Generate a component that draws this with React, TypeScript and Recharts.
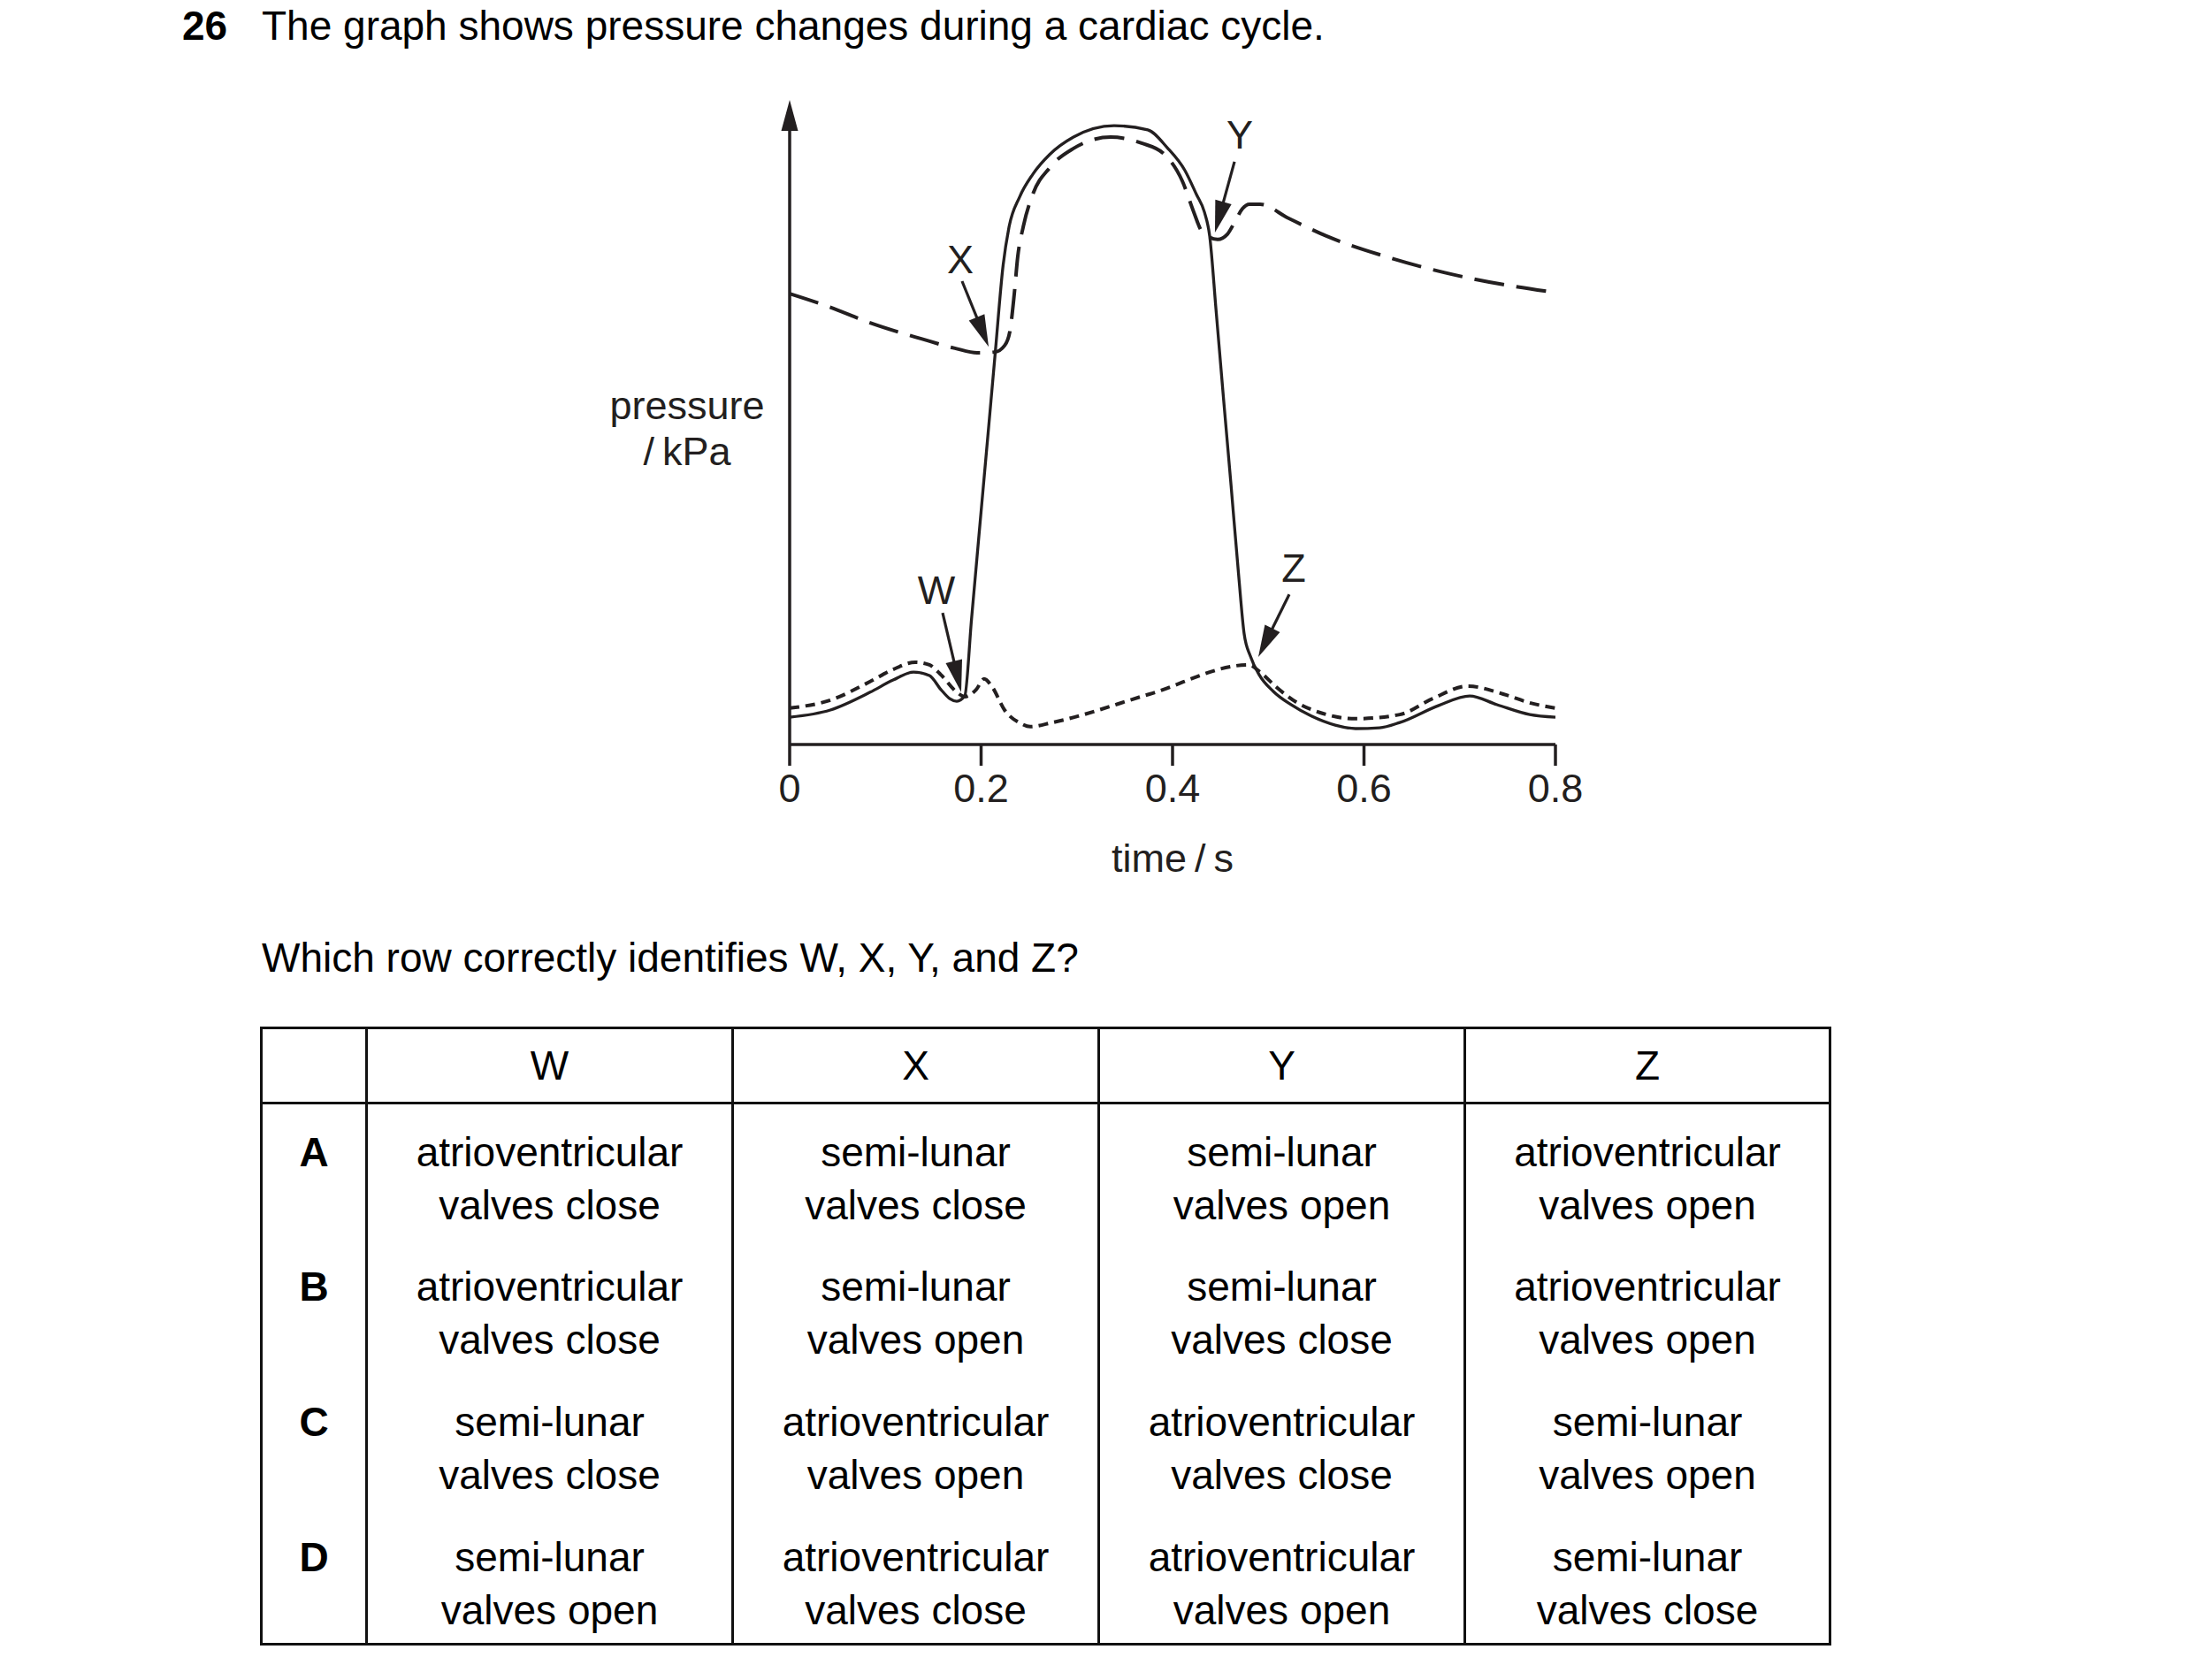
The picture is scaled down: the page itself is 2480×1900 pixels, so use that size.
import React from 'react'
import { Line, LineChart, ReferenceDot, ReferenceLine, XAxis, YAxis } from 'recharts'

const INK = '#231f20'
const FONT = '"Liberation Sans", Arial, Helvetica, sans-serif'

// time / s on the x axis, pressure (arbitrary kPa scale) on the y axis
const TIME_TICKS = [0, 0.2, 0.4, 0.6, 0.8]
const PRESSURE_DOMAIN = [0, 17]

// ventricle – solid line
const ventricleT = [
  0, 0.0425, 0.0841, 0.1081, 0.1293, 0.146, 0.158, 0.1672, 0.1746, 0.1829,
  0.19, 0.1982, 0.2065, 0.2147, 0.223, 0.2291, 0.2402, 0.254, 0.2716, 0.2965,
  0.339, 0.3741, 0.3945, 0.4129, 0.4249, 0.4333, 0.4388, 0.4454, 0.4532, 0.4612,
  0.469, 0.4748, 0.4813, 0.4905, 0.5053, 0.5238, 0.545, 0.57, 0.5912, 0.6162,
  0.6374, 0.6781, 0.7104, 0.739, 0.7732, 0.8,
]
const ventricleP = [
  0.72, 0.91, 1.38, 1.7, 1.91, 1.82, 1.45, 1.21, 1.14, 1.28,
  3.31, 5.64, 7.98, 10.31, 12.64, 13.64, 14.44, 15.04, 15.56, 16.02,
  16.32, 16.21, 15.74, 15.14, 14.51, 14.04, 13.41, 11.47, 9.14, 6.81,
  4.48, 2.92, 2.33, 1.84, 1.4, 1.05, 0.75, 0.51, 0.42, 0.44,
  0.58, 1.03, 1.28, 1.05, 0.79, 0.72,
]

// aorta – dashed line
const aortaT = [
  0, 0.0416, 0.0841, 0.1376, 0.1727, 0.1958, 0.2143, 0.2245, 0.23, 0.2346,
  0.2383, 0.2439, 0.254, 0.2716, 0.2965, 0.3353, 0.3677, 0.3917, 0.4102, 0.4222,
  0.4296, 0.4379, 0.4471, 0.4573, 0.4656, 0.473, 0.4804, 0.4915, 0.521, 0.5607,
  0.6226, 0.6836, 0.7455, 0.8,
]
const aortaP = [
  11.89, 11.54, 11.12, 10.7, 10.45, 10.33, 10.35, 10.52, 10.89, 11.87,
  12.87, 13.64, 14.51, 15.21, 15.72, 16.02, 15.86, 15.56, 14.86, 14.04,
  13.57, 13.39, 13.32, 13.46, 13.81, 14.13, 14.25, 14.25, 13.88, 13.41,
  12.87, 12.45, 12.13, 11.92,
]

// atrium – dotted line
const atriumT = [
  0, 0.0425, 0.0841, 0.1081, 0.1312, 0.146, 0.158, 0.1746, 0.1829, 0.1949,
  0.2032, 0.2115, 0.2245, 0.2411, 0.2513, 0.2744, 0.376, 0.4794, 0.4915, 0.5081,
  0.5303, 0.5543, 0.5912, 0.6374, 0.6716, 0.7085, 0.7455, 0.7732, 0.8,
]
const atriumP = [
  0.96, 1.17, 1.66, 1.98, 2.17, 2.1, 1.84, 1.38, 1.26, 1.45,
  1.73, 1.52, 0.91, 0.56, 0.47, 0.58, 1.33, 2.1, 1.91, 1.52,
  1.1, 0.84, 0.68, 0.79, 1.21, 1.54, 1.33, 1.1, 0.96,
]

// labelled arrows: [time, pressure]
const MARKERS = ['W', 'X', 'Y', 'Z']
const MARKER_TEXT = [[0.1533, 4.08], [0.1783, 12.8], [0.4702, 16.09], [0.5266, 4.66]]
const MARKER_TAIL = [[0.1598, 3.47], [0.1801, 12.22], [0.4647, 15.37], [0.5219, 3.96]]
const MARKER_TIP = [[0.1792, 1.38], [0.2079, 10.49], [0.4443, 13.5], [0.4896, 2.31]]

// table
const ROW_KEYS = ['A', 'B', 'C', 'D']
const COLUMN_HEADS = ['W', 'X', 'Y', 'Z']
const AV = 'atrioventricular'
const SL = 'semi-lunar'
const ANSWERS = [
  [[AV, 'close'], [SL, 'close'], [SL, 'open'], [AV, 'open']],
  [[AV, 'close'], [SL, 'open'], [SL, 'close'], [AV, 'open']],
  [[SL, 'close'], [AV, 'open'], [AV, 'close'], [SL, 'open']],
  [[SL, 'open'], [AV, 'close'], [AV, 'open'], [SL, 'close']],
]

const toRows = (t: number[], p: number[]) => t.map((x, i) => ({ t: x, p: p[i] }))

function arrowShape(head: number, half: number, width: number) {
  return (props: any) => {
    const { x1, y1, x2, y2 } = props
    const dx = x2 - x1
    const dy = y2 - y1
    const len = Math.hypot(dx, dy) || 1
    const ux = dx / len
    const uy = dy / len
    const bx = x2 - ux * head
    const by = y2 - uy * head
    return (
      <g>
        <line x1={x1} y1={y1} x2={bx + ux * 2} y2={by + uy * 2} stroke={INK} strokeWidth={width} />
        <polygon
          points={`${x2},${y2} ${bx - uy * half},${by + ux * half} ${bx + uy * half},${by - ux * half}`}
          fill={INK}
        />
      </g>
    )
  }
}

const axisArrow = arrowShape(35, 9.5, 3.5)
const markerArrow = arrowShape(36, 9.5, 3.2)

const cell: React.CSSProperties = {
  borderLeft: '3px solid #111',
  borderRight: '3px solid #111',
  textAlign: 'center',
  padding: 0,
}

export default function App() {
  const ventricle = toRows(ventricleT, ventricleP)
  const aorta = toRows(aortaT, aortaP)
  const atrium = toRows(atriumT, atriumP)

  return (
    <div
      style={{
        position: 'absolute',
        left: 0,
        top: 0,
        width: 2480,
        height: 1900,
        background: '#fff',
        fontFamily: FONT,
        color: '#000',
      }}
    >
      <div style={{ position: 'absolute', left: 206, top: 6, fontSize: 46, lineHeight: '46px', fontWeight: 700 }}>
        26
      </div>
      <div style={{ position: 'absolute', left: 296, top: 6, fontSize: 46, lineHeight: '46px', whiteSpace: 'nowrap' }}>
        The graph shows pressure changes during a cardiac cycle.
      </div>

      <div
        style={{
          position: 'absolute',
          left: 677,
          top: 433,
          width: 200,
          textAlign: 'center',
          fontSize: 45,
          lineHeight: '52px',
          color: INK,
        }}
      >
        pressure
        <br />
        {'/\u2009kPa'}
      </div>

      <div style={{ position: 'absolute', left: 600, top: 60 }}>
        <LineChart width={1300} height={1000} margin={{ top: 53, right: 141, bottom: 108, left: 293 }}>
          <XAxis
            dataKey="t"
            type="number"
            domain={[0, 0.8]}
            ticks={TIME_TICKS}
            interval={0}
            tickFormatter={(v: number) => String(v)}
            height={110}
            tickSize={24}
            tickMargin={9}
            axisLine={{ stroke: INK, strokeWidth: 3.5 }}
            tickLine={{ stroke: INK, strokeWidth: 3.5 }}
            tick={{ fontSize: 45, fill: INK, fontFamily: FONT }}
            label={{ value: 'time\u2009/\u2009s', position: 'bottom', offset: 2, fontSize: 45, fill: INK, fontFamily: FONT }}
          />
          <YAxis type="number" domain={PRESSURE_DOMAIN} hide />
          <ReferenceLine
            segment={[{ x: 0, y: PRESSURE_DOMAIN[0] }, { x: 0, y: PRESSURE_DOMAIN[1] }]}
            shape={axisArrow}
          />
          <Line
            data={aorta}
            dataKey="p"
            type="monotone"
            stroke={INK}
            strokeWidth={4}
            strokeDasharray="34 14"
            dot={false}
            activeDot={false}
            isAnimationActive={false}
          />
          <Line
            data={atrium}
            dataKey="p"
            type="monotone"
            stroke={INK}
            strokeWidth={4}
            strokeDasharray="11 7"
            dot={false}
            activeDot={false}
            isAnimationActive={false}
          />
          <Line
            data={ventricle}
            dataKey="p"
            type="monotone"
            stroke={INK}
            strokeWidth={3.3}
            dot={false}
            activeDot={false}
            isAnimationActive={false}
          />
          {MARKERS.map((m, i) => (
            <ReferenceLine
              key={`arrow-${m}`}
              segment={[
                { x: MARKER_TAIL[i][0], y: MARKER_TAIL[i][1] },
                { x: MARKER_TIP[i][0], y: MARKER_TIP[i][1] },
              ]}
              shape={markerArrow}
            />
          ))}
          {MARKERS.map((m, i) => (
            <ReferenceDot
              key={`label-${m}`}
              x={MARKER_TEXT[i][0]}
              y={MARKER_TEXT[i][1]}
              r={0}
              fill="none"
              stroke="none"
              label={{ value: m, position: 'center', fontSize: 45, fill: INK, fontFamily: FONT }}
            />
          ))}
        </LineChart>
      </div>

      <div style={{ position: 'absolute', left: 296, top: 1060, fontSize: 46, lineHeight: '46px', whiteSpace: 'nowrap' }}>
        Which row correctly identifies W, X, Y, and Z?
      </div>

      <table
        style={{
          position: 'absolute',
          left: 294,
          top: 1161,
          width: 1774,
          borderCollapse: 'collapse',
          tableLayout: 'fixed',
          border: '3px solid #111',
          fontSize: 46,
          lineHeight: '60px',
          fontFamily: FONT,
          color: '#000',
        }}
      >
        <colgroup>
          <col style={{ width: 119 }} />
          <col style={{ width: 414 }} />
          <col style={{ width: 414 }} />
          <col style={{ width: 414 }} />
          <col style={{ width: 413 }} />
        </colgroup>
        <thead>
          <tr style={{ height: 85 }}>
            <th style={{ ...cell, borderBottom: '3px solid #111' }} />
            {COLUMN_HEADS.map((h) => (
              <th key={h} style={{ ...cell, fontWeight: 400, borderBottom: '3px solid #111', verticalAlign: 'middle' }}>
                {h}
              </th>
            ))}
          </tr>
        </thead>
        <tbody>
          {ROW_KEYS.map((k, r) => (
            <tr key={k} style={{ height: 153 }}>
              <td style={{ ...cell, fontWeight: 700, verticalAlign: 'top', paddingTop: 24 }}>{k}</td>
              {ANSWERS[r].map(([valve, action], c) => (
                <td key={c} style={{ ...cell, verticalAlign: 'top', paddingTop: 24 }}>
                  {valve}
                  <br />
                  valves {action}
                </td>
              ))}
            </tr>
          ))}
        </tbody>
      </table>
    </div>
  )
}
